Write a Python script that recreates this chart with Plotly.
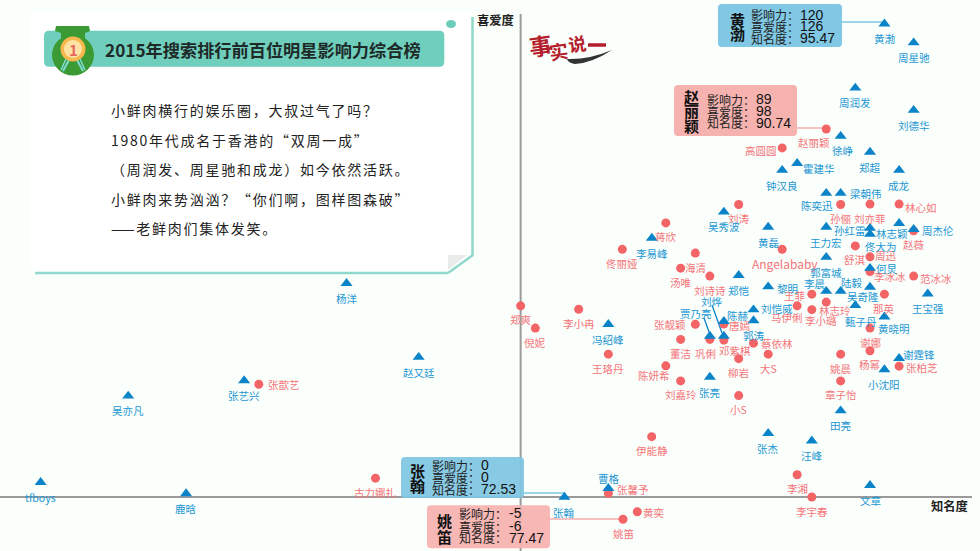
import plotly.graph_objects as go

# ---------- data ----------
male_names = ["黄渤","周星驰","周润发","刘德华","徐峥","郑超","成龙","霍建华","钟汉良","陈奕迅","梁朝伟","王力宏","孙红雷","佟大为","林志颖","周杰伦","何炅","郭富城","吴秀波","黄磊","李易峰","郑恺","黎明","李晨","陆毅","吴奇隆","王宝强","刘恺威","甄子丹","黄晓明","谢霆锋","小沈阳","陈赫","郭涛","刘烨","贾乃亮","张亮","冯绍峰","杨洋","赵又廷","张艺兴","吴亦凡","tfboys","鹿晗","曹格","张翰","张杰","汪峰","文章","田亮"]
male_fame = [95.44,97.53,93.36,97.53,92.31,94.41,96.49,89.20,88.13,91.28,92.31,91.28,94.41,94.41,96.49,97.53,94.41,91.28,83.96,87.13,78.81,85.02,87.13,91.28,92.31,94.41,98.54,86.08,93.36,95.44,96.49,95.44,83.96,86.08,83.96,82.96,82.96,75.70,56.98,62.14,49.66,41.37,35.11,45.51,75.70,72.56,87.13,90.25,94.41,92.31]
male_love = [125.5,120.5,108.5,102.6,95.7,91.5,86.7,88.5,86.7,80.6,80.6,71.6,71.3,69.7,72.6,71.0,60.7,63.6,75.6,71.6,68.7,58.8,55.8,54.6,54.6,55.7,53.9,49.7,50.8,47.8,36.8,33.8,46.6,46.8,42.7,42.7,31.8,45.8,56.7,37.1,30.9,26.8,3.9,0.9,2.3,0.0,16.9,14.9,3.1,22.9]

female_names = ["赵丽颖","高圆圆","孙俪","刘亦菲","林心如","赵薇","舒淇","周迅","李冰冰","范冰冰","Angelababy","刘涛","蒋欣","佟丽娅","海清","汤唯","刘诗诗","那英","王菲","马伊俐","林志玲","李小璐","谢娜","杨幂","姚晨","章子怡","张柏芝","唐嫣","蔡依林","大S","柳岩","小S","邓紫棋","巩俐","张靓颖","董洁","陈妍希","刘嘉玲","王珞丹","李小冉","郑爽","倪妮","张歆艺","古力娜扎","伊能静","张馨予","黄奕","姚笛","李湘","李宇春"]
female_fame = [91.28,88.13,92.31,94.41,96.49,97.53,93.36,94.41,94.41,97.53,88.13,85.02,79.81,76.70,81.92,80.87,82.96,95.44,90.25,89.20,91.28,90.25,94.41,94.41,92.31,92.31,96.49,83.96,86.08,87.13,85.02,85.02,83.96,82.96,81.92,80.87,79.81,80.87,75.70,73.58,69.43,70.48,50.71,59.05,78.80,75.70,77.77,76.75,89.20,90.25]
female_love = [97.6,92.6,77.6,77.7,77.7,70.6,66.6,63.7,59.8,58.6,65.7,77.6,72.7,65.7,64.7,60.7,58.6,53.8,53.8,50.7,51.7,49.7,44.8,38.8,37.9,30.8,34.7,45.9,40.8,37.9,36.7,26.9,41.6,41.8,45.8,41.8,34.8,30.8,37.9,49.8,50.7,44.8,29.9,5.0,16.0,1.0,-3.9,-5.9,5.9,0.0]

title_text = "2015年搜索排行前百位明星影响力综合榜"
body_lines = ["小鲜肉横行的娱乐圈，大叔过气了吗？","1980年代成名于香港的“双周一成”","（周润发、周星驰和成龙）如今依然活跃。","小鲜肉来势汹汹？“你们啊，图样图森破”","——老鲜肉们集体发笑。"]
metric_names = ["影响力：","喜爱度：","知名度："]
card_stars = ["黄渤","赵丽颖","张翰","姚笛"]
card_values = [["120","126","95.47"],["89","98","90.74"],["0","0","72.53"],["-5","-6","77.47"]]

# ---------- axis placement ----------
X_RANGE = [32.204, 102.274]
Y_RANGE = [-14.32, 131.83]
X_CROSS = 69.43

BG = "#FBFFFC"
BLUE = "#0A83C8"; BLUE_TXT = "#2296D2"
PINK = "#F26466"; PINK_TXT = "#F47479"
TEAL = "#6FCFBC"; EDGE = "#8FD8CB"
CJK = "Noto Sans CJK SC"

# label offsets in pixels (dx, dy down) where a label is not straight below its mark
OFFSETS = {"霍建华":(22,5),"高圆圆":(-21,3),"赵丽颖":(-12,13),"徐峥":(2,14),"陈奕迅":(-9,12),"梁朝伟":(25,0),"林心如":(22,3),
"孙红雷":(-20,2),"林志颖":(-7,10),"佟大为":(11,12),"周杰伦":(24,1),"周迅":(16,-1),"何炅":(17,0),"李冰冰":(20,5),"范冰冰":(22,2),
"Angelababy":(3,14),"黎明":(19,2),"李晨":(-11,-8),"陆毅":(11,-9),"吴奇隆":(-7,9),"王菲":(-17,1),"刘恺威":(23,-1),"马伊俐":(-10,12),
"林志玲":(9,8),"李小璐":(9,11),"甄子丹":(6,16),"黄晓明":(10,12),"谢霆锋":(20,-4),"张柏芝":(23,1),"陈赫":(14,-6),"唐嫣":(16,2),
"蔡依林":(23,0),"邓紫棋":(11,10),"巩俐":(-4,14),"张靓颖":(-25,0),"陈妍希":(-12,10),"张歆艺":(25,0),"曹格":(1,-10),"张馨予":(25,-4),
"黄奕":(17,1),"刘烨":(-12,-35),"贾乃亮":(-14,-23)}

def px(x): return x/980
def py(y): return 1-y/551
def P(x,y): return f"{px(x):.5f},{py(y):.5f}"

def rrect(x0,y0,x1,y1,r):
    # rounded rectangle path, in paper coordinates
    return (f"M{P(x0+r,y0)} L{P(x1-r,y0)} Q{P(x1,y0)} {P(x1,y0+r)} L{P(x1,y1-r)} Q{P(x1,y1)} {P(x1-r,y1)} "
            f"L{P(x0+r,y1)} Q{P(x0,y1)} {P(x0,y1-r)} L{P(x0,y0+r)} Q{P(x0,y0)} {P(x0+r,y0)} Z")

shapes=[]; ann=[]
def path(d,fill=None,line=None,w=0,layer="below",op=1):
    s=dict(type="path",xref="paper",yref="paper",path=d,layer=layer,opacity=op,line=dict(width=w,color=line or "rgba(0,0,0,0)"))
    if fill: s["fillcolor"]=fill
    shapes.append(s)
def ell(cx,cy,rx,ry,fill,layer="below"):
    shapes.append(dict(type="circle",xref="paper",yref="paper",x0=px(cx-rx),x1=px(cx+rx),y0=py(cy+ry),y1=py(cy-ry),fillcolor=fill,line=dict(width=0),layer=layer))
def seg(x0,y0,x1,y1,color,w,layer="below"):
    shapes.append(dict(type="line",xref="paper",yref="paper",x0=px(x0),x1=px(x1),y0=py(y0),y1=py(y1),line=dict(color=color,width=w),layer=layer))
def txt(x,y,t,size,color="#222",anchor="left",bold=False,family=CJK,angle=0):
    ann.append(dict(xref="paper",yref="paper",x=px(x),y=py(y),text=t,showarrow=False,xanchor=anchor,yanchor="middle",
        font=dict(size=size,color=color,family=family,weight="bold" if bold else "normal"),textangle=angle,borderpad=0,borderwidth=0))

# --- card ---
path(f"M{P(30,13)} L{P(472,13)} L{P(472,255)} L{P(448,273)} L{P(35,273)} L{P(30,268)} Z",fill="#FFFFFF")
seg(472.5,17,472.5,256,EDGE,2.5); seg(35,273,448,273,EDGE,2.5); seg(448,273,473,255,EDGE,2.5)
path(f"M{P(448,255)} L{P(467,255)} L{P(448,270)} Z",fill="#E9EAEA")
ell(451,24,5,4,"#6CCBBA")
path(rrect(44,30.7,444.3,66.7,5),fill=TEAL)

# --- medal ---
path(f"M{P(56,26)} L{P(89,26)} L{P(90,31)} L{P(85,33)} L{P(85,38)} L{P(61,38)} L{P(61,33)} L{P(55,31)} Z",fill="#3C9A34")
ell(73,55,21,20.5,"#3C9A34")
seg(69,60,63,71,"#7FDCD6",2); seg(66,59,61,70,"#7FDCD6",1.5)
seg(77,60,83,71,"#7FDCD6",2); seg(80,59,85,70,"#7FDCD6",1.5)
ell(73,49,12.5,12.5,"#F8B84E"); ell(73,49,9,9,"#FCE3A4")
txt(73,49,"1",15,"#E8685F","center",True)

# --- axes ---
shapes.append(dict(type="line",xref="x",yref="y",x0=X_RANGE[0],x1=101.7,y0=0,y1=0,line=dict(color="#9A9A9A",width=2),layer="below"))
shapes.append(dict(type="line",xref="x",yref="paper",x0=X_CROSS,x1=X_CROSS,y0=0,y1=py(14),line=dict(color="#9A9A9A",width=2),layer="below"))
txt(495.5,20,"喜爱度",12.3,"#222","center",True)
txt(949.5,506,"知名度",12.3,"#222","center",True)

# --- title and story ---
txt(105,49,title_text,17.2,"#1E2A28",bold=True)
GAP="\u200a"*2
for ty,t in zip([110,139.5,169,198.5,228],body_lines):
    txt(111,ty,GAP.join(t).replace("—"+GAP+"—","——"),14,"#222")

# --- logo ---
txt(540,45,"事",23,"#B51E2C","center",True,angle=-8)
txt(558,50,"实",19,"#B51E2C","center",True,angle=-8)
txt(577,43,"说",18,"#B51E2C","center",True,angle=-8)
seg(588,45,606,45,"#B51E2C",3.5)
path(f"M{P(567,59)} Q{P(588,60)} {P(612,50)} Q{P(592,63)} {P(575,64)} Q{P(568,63)} {P(567,59)} Z",fill="#333333")

# --- call-out connectors ---
seg(842,22,885,22,"#7CC8E8",1.5)
seg(797,128,827,128,"#F4AEAE",1.5)
seg(524,493,564,493,"#7CC8E8",1.5)
seg(545,519,623,519,"#F4AEAE",1.5)
seg(704,318,709,332,BLUE,1.3)
seg(712,305,722,333,BLUE,1.3)

# --- call-out boxes ---
boxes=[(718,4,842,47,"#80C8E4",1),(674,85,797,136,"#F6B2AF",1),(401,457,524,498,"#7FC6E2",0.93),(427,505.3,550,548.3,"#F6B2AF",0.93)]
for x0,y0,x1,y1,col,op in boxes:
    path(rrect(x0,y0,x1,y1,4),fill=col,layer="above",op=op)
name_pos=[(737.5,[20,34]),(691.7,[96.7,110.7,125.7]),(417.7,[470,485]),(444.7,[520,536])]
line_x=[(751,800),(707,756),(431.7,480.7),(459.3,509)]
line_y=[(14.7,26,38),(99.3,111,123),(465,477,489),(513.3,526,537.7)]
for star,vals,(nx,nys),(lx,vx),ys in zip(card_stars,card_values,name_pos,line_x,line_y):
    for ch,ny in zip(star,nys):
        txt(nx,ny,ch,15,"#111","center",True)
    for m,v,y in zip(metric_names,vals,ys):
        txt(lx,y,m,12,"#222")
        txt(vx,y,v,14,"#111",family="Liberation Sans")

# --- scatter labels, anchored to the data ---
def labels(names,xs,ys,color,default):
    for n,x,y in zip(names,xs,ys):
        dx,dy=OFFSETS.get(n,(0,default))
        ann.append(dict(xref="x",yref="y",x=x,y=y,text=n,showarrow=False,xanchor="center",yanchor="middle",xshift=dx,yshift=-dy,
            font=dict(size=12 if n=="Angelababy" else 10.5,color=color,family=CJK)))
labels(female_names,female_fame,female_love,PINK_TXT,14)
labels(male_names,male_fame,male_love,BLUE_TXT,15)

fig=go.Figure()
fig.add_trace(go.Scatter(x=female_fame,y=female_love,mode="markers",name="女",text=female_names,
    marker=dict(symbol="circle",size=9,color=PINK,line=dict(width=0))))
fig.add_trace(go.Scatter(x=male_fame,y=male_love,mode="markers",name="男",text=male_names,
    marker=dict(symbol="triangle-up",size=10.5,color=BLUE,line=dict(width=0))))
fig.update_layout(width=980,height=551,margin=dict(l=0,r=0,t=0,b=0),paper_bgcolor=BG,plot_bgcolor=BG,showlegend=False,
    shapes=shapes,annotations=ann,font=dict(family=CJK),
    xaxis=dict(range=X_RANGE,visible=False,fixedrange=True),yaxis=dict(range=Y_RANGE,visible=False,fixedrange=True))
fig.write_html("out.html",post_script="document.body.style.margin='0';",config={"displayModeBar":False})
